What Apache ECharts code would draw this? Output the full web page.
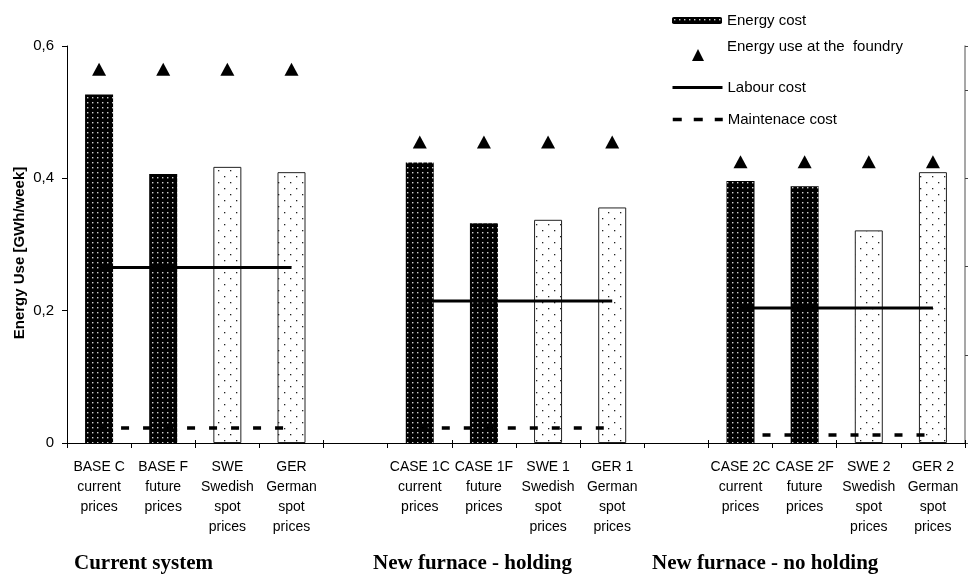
<!DOCTYPE html>
<html>
<head>
<meta charset="utf-8">
<script src="https://cdn.jsdelivr.net/npm/echarts@6/dist/echarts.min.js"></script>
<style>
html, body { margin: 0; padding: 0; background: #fff; }
#chart { width: 968px; height: 574px; }
</style>
</head>
<body>
<div id="chart"></div>
<script>
// categories, with empty slots between the three groups
var categories = [
  'BASE C\ncurrent\nprices', 'BASE F\nfuture\nprices', 'SWE\nSwedish\nspot\nprices', 'GER\nGerman\nspot\nprices',
  '',
  'CASE 1C\ncurrent\nprices', 'CASE 1F\nfuture\nprices', 'SWE 1\nSwedish\nspot\nprices', 'GER 1\nGerman\nspot\nprices',
  '',
  'CASE 2C\ncurrent\nprices', 'CASE 2F\nfuture\nprices', 'SWE 2\nSwedish\nspot\nprices', 'GER 2\nGerman\nspot\nprices'
]
var groupTitles = ['Current system', 'New furnace - holding', 'New furnace - no holding']

// cost series on the (unlabelled) right axis
var energyCost = [3.95, 3.05, 3.13, 3.07, null, 3.18, 2.49, 2.53, 2.67, null, 2.97, 2.91, 2.41, 3.07]
var labourCost = [1.99, 1.99, 1.99, 1.99, null, 1.61, 1.61, 1.61, 1.61, null, 1.53, 1.53, 1.53, 1.53]
var maintCost = [0.17, 0.17, 0.17, 0.17, null, 0.17, 0.17, 0.17, 0.17, null, 0.09, 0.09, 0.09, 0.09]
// energy use on the left axis [GWh/week]
var energyUse = [0.565, 0.565, 0.565, 0.565, null, 0.455, 0.455, 0.455, 0.455, null, 0.425, 0.425, 0.425, 0.425]
var leftTicks = [0, 0.6, 0.2]   // min, max, interval
var rightTicks = [0, 4.5, 1]

var FONT = 'Arial, "Liberation Sans", sans-serif'
var SERIF = '"Times New Roman", "Liberation Serif", serif'
var USE_NAME = 'Energy use at the  foundry'

// fill patterns like the excel ones
function makePattern(bg, fg, size, dots) {
  var c = document.createElement('canvas')
  c.width = size
  c.height = size
  var ctx = c.getContext('2d')
  ctx.fillStyle = bg
  ctx.fillRect(0, 0, size, size)
  ctx.fillStyle = fg
  dots.forEach(function(d) { ctx.fillRect(d[0], d[1], d[2], d[2]) })
  return { image: c, repeat: 'repeat' }
}
var darkFill = makePattern('#000', '#cfcfcf', 5, [[2, 2, 1.4]])
var lightFill = makePattern('#fff', '#222', 12, [[2, 2, 1.3], [8, 8, 1.3]])

var barData = energyCost.map(function(v, i) {
  var spot = categories[i].indexOf('spot') >= 0
  return {
    value: v,
    itemStyle: spot ? { color: lightFill, borderColor: '#222', borderWidth: 1 } : { color: darkFill }
  }
})

var legendText = { fontSize: 15, color: '#000', fontFamily: FONT }
var noSymbol = { opacity: 0, color: 'rgba(0,0,0,0)', borderWidth: 0 }

var myChart = echarts.init(document.getElementById('chart'))
var option = {
  animation: false,
  backgroundColor: '#fff',
  textStyle: { fontFamily: FONT, color: '#000' },
  grid: { left: 67, right: 3, top: 46, height: 397, outerBoundsMode: 'none', containLabel: false },
  legend: [
    {
      data: ['Energy cost'], left: 672, top: 13, padding: 0,
      itemWidth: 50, itemHeight: 7, textStyle: legendText
    },
    {
      // triangle only
      data: [USE_NAME], left: 692, top: 49, padding: 0,
      itemWidth: 12, itemHeight: 12, textStyle: legendText,
      formatter: function() { return '' }
    },
    {
      // text only
      data: [USE_NAME], left: 721, top: 39, padding: 0,
      itemWidth: 1, itemHeight: 1, itemStyle: noSymbol, textStyle: legendText
    },
    {
      data: ['Labour cost'], left: 671, top: 80, padding: 0,
      itemWidth: 50, itemHeight: 12, textStyle: legendText,
      itemStyle: noSymbol, lineStyle: { width: 3, color: '#000' }
    },
    {
      data: ['Maintenace cost'], left: 671, top: 112, padding: 0,
      itemWidth: 50, itemHeight: 12, textStyle: legendText,
      itemStyle: noSymbol, lineStyle: { width: 3.5, color: '#000', type: [9, 12] }
    }
  ],
  xAxis: [
    {
      type: 'category',
      data: categories,
      position: 'bottom',
      axisLine: { lineStyle: { color: '#000', width: 1 } },
      axisTick: { show: true, length: 5, lineStyle: { color: '#000' } },
      axisLabel: { interval: 0, fontSize: 14, lineHeight: 20, margin: 14, color: '#000', fontFamily: FONT }
    },
    {
      // inner half of the crossing ticks
      type: 'category',
      data: categories,
      position: 'bottom',
      axisLine: { show: false },
      axisTick: { show: true, inside: true, length: 3, lineStyle: { color: '#000' } },
      axisLabel: { show: false }
    }
  ],
  yAxis: [
    {
      type: 'value',
      min: leftTicks[0],
      max: leftTicks[1],
      interval: leftTicks[2],
      name: 'Energy Use [GWh/week]',
      nameLocation: 'middle',
      nameGap: 40,
      nameRotate: 90,
      nameMoveOverlap: false,
      nameTextStyle: { fontSize: 15, fontWeight: 'bold', color: '#000', fontFamily: FONT, padding: [0, 17, 0, 0] },
      axisLine: { show: true, lineStyle: { color: '#000', width: 1 } },
      axisTick: { show: true, length: 5, lineStyle: { color: '#000' } },
      axisLabel: {
        fontSize: 15, color: '#000', margin: 13, fontFamily: FONT,
        formatter: function(v) { return String(v).replace('.', ',') }
      },
      splitLine: { show: false }
    },
    {
      type: 'value',
      position: 'right',
      min: rightTicks[0],
      max: rightTicks[1],
      interval: rightTicks[2],
      axisLine: { show: true, lineStyle: { color: '#8a8a8a', width: 1.5 } },
      axisTick: { show: true, length: 4, lineStyle: { color: '#444' } },
      axisLabel: { show: false },
      splitLine: { show: false }
    }
  ],
  series: [
    {
      name: 'Energy cost',
      type: 'bar',
      yAxisIndex: 1,
      barWidth: 28,
      itemStyle: { color: darkFill },
      data: barData
    },
    {
      name: 'Labour cost',
      type: 'line',
      yAxisIndex: 1,
      symbol: 'none',
      lineStyle: { color: '#000', width: 3 },
      itemStyle: { color: '#000' },
      data: labourCost
    },
    {
      name: 'Maintenace cost',
      type: 'line',
      yAxisIndex: 1,
      symbol: 'none',
      lineStyle: { color: '#000', width: 3.5, type: [8, 14] },
      itemStyle: { color: '#000' },
      data: maintCost
    },
    {
      name: USE_NAME,
      type: 'scatter',
      yAxisIndex: 0,
      symbol: 'triangle',
      symbolSize: [14, 13],
      itemStyle: { color: '#000', opacity: 1 },
      data: energyUse
    }
  ],
  graphic: [
    { type: 'text', left: 74, top: 553, style: { text: groupTitles[0], font: 'bold 21px ' + SERIF, fill: '#000' } },
    { type: 'text', left: 373, top: 553, style: { text: groupTitles[1], font: 'bold 21px ' + SERIF, fill: '#000' } },
    { type: 'text', left: 652, top: 553, style: { text: groupTitles[2], font: 'bold 21px ' + SERIF, fill: '#000' } }
  ]
}
myChart.setOption(option)
</script>
</body>
</html>
